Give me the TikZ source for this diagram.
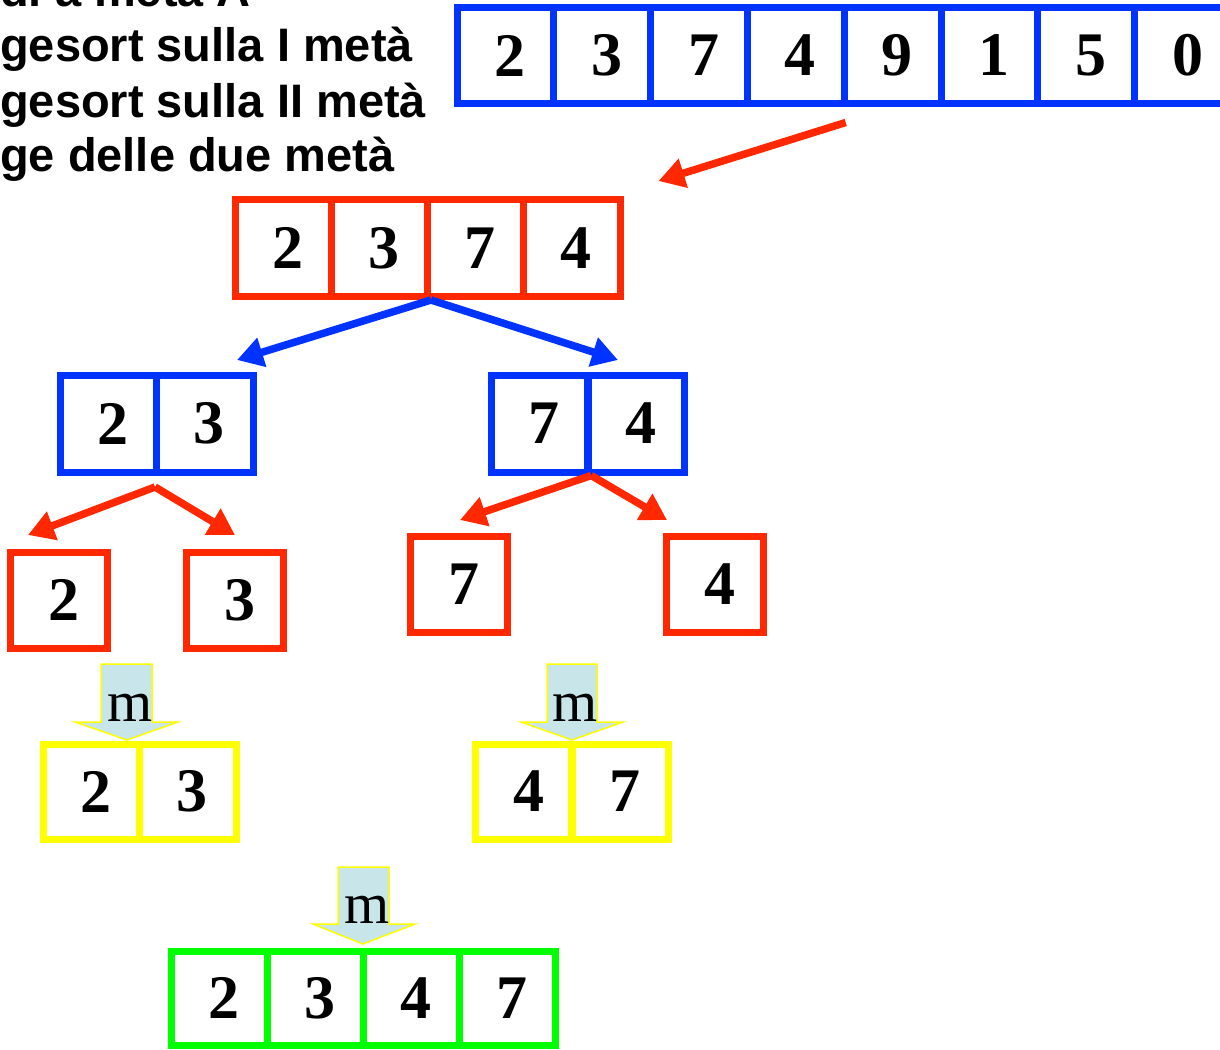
\documentclass[tikz,border=0pt]{standalone}
\usepackage{fontspec}
\setmainfont{Liberation Serif}
\newfontfamily\hsans{Liberation Sans}
\usetikzlibrary{arrows.meta,calc}
\definecolor{cblue}{RGB}{0,51,255}
\definecolor{cred}{RGB}{255,40,0}
\definecolor{cyel}{RGB}{255,255,0}
\definecolor{cgreen}{RGB}{0,255,0}
\definecolor{lblue}{RGB}{200,230,233}
\tikzset{
  cell/.style={draw, line width=7pt, minimum width=96.5pt, minimum height=96pt,
    inner sep=0pt, font=\fontsize{62}{62}\selectfont\bfseries},
  arr/.style={line width=7.5pt, -{Triangle[length=26pt,width=29pt]}},
  marrow/.style={fill=lblue, draw=cyel, line width=1.5pt, line join=miter},
  mlabel/.style={inner sep=0pt, anchor=base, font=\fontsize{58}{58}\selectfont},
  txt/.style={inner sep=0pt, anchor=base west, font=\hsans\bfseries\fontsize{47}{47}\selectfont}
}
\newcommand\dg[1]{\kern9pt#1}
\begin{document}
\begin{tikzpicture}[x=1pt,y=-1pt]
\useasboundingbox (0,0) rectangle (1220,1049);
\clip (0,0) rectangle (1220,1049);

% text
\node[txt] (l0) at (0,7) {di a metà A};
\node[txt] (l1) at (0,62) {gesort sulla I metà};
\node[txt] (l2) at (0,117) {gesort sulla II metà};
\node[txt] (l3) at (0,171) {ge delle due metà};

% top array
\foreach \v [count=\i] in {2,3,7,4,9,1,5,0}
  \node[cell, draw=cblue, minimum width=96.8pt, minimum height=95pt] (t\i) at ({457+96.8*(\i-0.5)},55.5) {\dg{\v}};

% red array
\foreach \v [count=\i] in {2,3,7,4}
  \node[cell, draw=cred, minimum width=96.25pt, minimum height=97pt] (r\i) at ({235+96.25*(\i-0.5)},248) {\dg{\v}};

% blue pairs
\foreach \v [count=\i] in {2,3}
  \node[cell, draw=cblue, minimum height=97pt] (bl\i) at ({60+96.5*(\i-0.5)},423.5) {\dg{\v}};
\foreach \v [count=\i] in {7,4}
  \node[cell, draw=cblue, minimum height=97pt] (br\i) at ({491+97*(\i-0.5)},423.5) {\dg{\v}};

% red singles
\node[cell, draw=cred] (s1) at (59,600) {\dg{2}};
\node[cell, draw=cred] (s2) at (235,600) {\dg{3}};
\node[cell, draw=cred] (s3) at (459,584) {\dg{7}};
\node[cell, draw=cred] (s4) at (715,584) {\dg{4}};

% yellow pairs
\foreach \v [count=\i] in {2,3}
  \node[cell, draw=cyel, minimum height=95pt] (yl\i) at ({43+96.5*(\i-0.5)},791.5) {\dg{\v}};
\foreach \v [count=\i] in {4,7}
  \node[cell, draw=cyel, minimum height=95pt] (yr\i) at ({476+96*(\i-0.5)},791.5) {\dg{\v}};

% green array
\foreach \v [count=\i] in {2,3,4,7}
  \node[cell, draw=cgreen, minimum width=96pt, minimum height=94pt] (g\i) at ({171+96*(\i-0.5)},998) {\dg{\v}};

% arrows
\coordinate (a0s) at ($(t4.south east)+(-2,16)$);
\coordinate (a0t) at ($(r4.north east)+(35,-15)$);
\draw[arr, cred] (a0s) -- (a0t);

\coordinate (b1t) at (237,360);
\coordinate (b2t) at (618,360);
\draw[arr, cblue] (r2.south east) -- (b1t);
\draw[arr, cblue] (r2.south east) -- (b2t);

\coordinate (c0) at (155,487);
\coordinate (c1t) at (28,535);
\coordinate (c2t) at (235,535);
\draw[arr, cred] (c0) -- (c1t);
\draw[arr, cred] (c0) -- (c2t);

\coordinate (d1t) at (460,520);
\coordinate (d2t) at (667,520);
\draw[arr, cred] (br1.south east) -- (d1t);
\draw[arr, cred] (br1.south east) -- (d2t);

% merge arrows
\draw[marrow] (101,664) -- (152,664) -- (152,722) -- (178,722) -- (127,740) -- (75,722) -- (101,722) -- cycle;
\node[mlabel] (m1) at (130,721) {m};
\draw[marrow] (547,664) -- (597,664) -- (597,722) -- (623,722) -- (572,740) -- (521,722) -- (547,722) -- cycle;
\node[mlabel] (m2) at (575,721) {m};
\draw[marrow] (338,867) -- (389,867) -- (389,924) -- (415,924) -- (363,944) -- (313,924) -- (338,924) -- cycle;
\node[mlabel] (m3) at (367,923) {m};
\end{tikzpicture}
\end{document}
